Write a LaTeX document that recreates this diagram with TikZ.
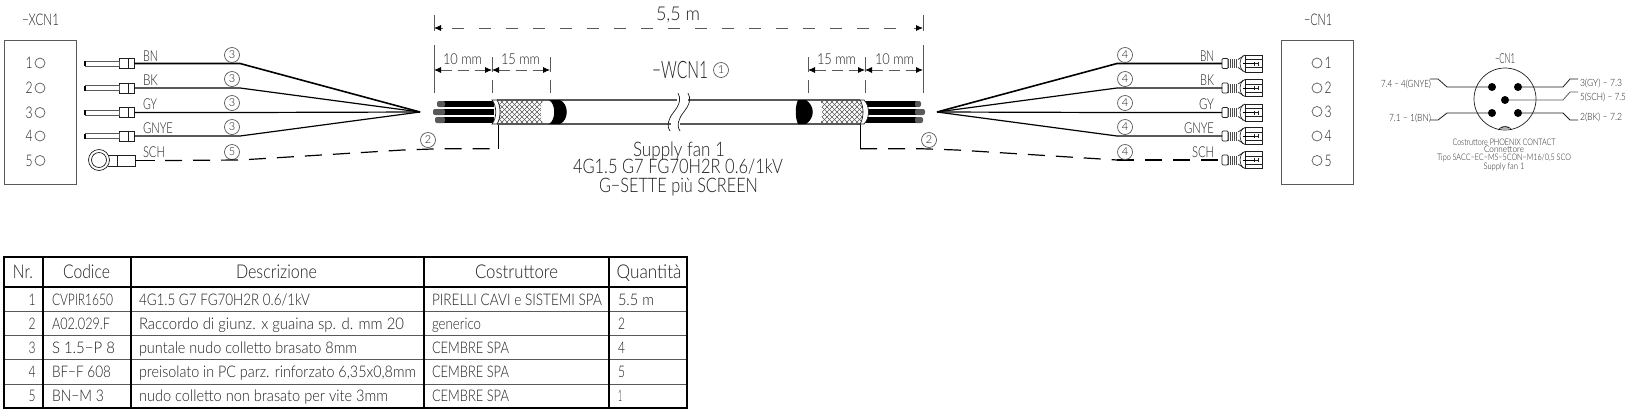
\documentclass[tikz,border=0pt]{standalone}
\usepackage{fontspec}
\usepackage{graphicx}
\usetikzlibrary{arrows.meta}
\newfontfamily\cad{Lato Light}
\definecolor{ink}{gray}{0.12}
\definecolor{thinl}{gray}{0.35}
\newcounter{tn}
\newcommand\Tx[6]{\stepcounter{tn}\pgfmathsetmacro\yb{#3+0.36*#5}\node[txtnode,anchor=#1] (t\arabic{tn}) at (#2,\yb) {\resizebox{#4pt}{\height}{\fontsize{#5}{#5}\selectfont\cad #6}};}
\newcommand\Cd[3]{\stepcounter{tn}\node[circd] (t\arabic{tn}) at (#1,#2) {\fontsize{11}{11}\selectfont\cad #3};}
\tikzset{
  txtnode/.style={inner sep=0pt,outer sep=0pt,text=ink},
  circd/.style={circle,draw=thinl,line width=.7pt,minimum size=15pt,inner sep=0pt,text=ink},
  box/.style={draw=thinl,line width=.9pt},
  wire/.style={draw=black,line width=1.2pt},
  dashwire/.style={draw=black,line width=1.2pt,dash pattern=on 17pt off 11pt},
  dimline/.style={draw=thinl,line width=.8pt,dash pattern=on 12pt off 15pt},
  dimshort/.style={draw=thinl,line width=.8pt,dash pattern=on 11pt off 6pt},
  extline/.style={draw=thinl,line width=.8pt},
  tabthick/.style={draw=black,line width=1.5pt},
  tabthin/.style={draw=thinl,line width=.9pt},
  pinhole/.style={circle,draw=thinl,line width=.7pt,minimum size=10pt,inner sep=0pt},
  pindot/.style={circle,fill=black,minimum size=8pt,inner sep=0pt},
  ferr/.style={draw=ink,line width=.8pt,fill=white,minimum width=15pt,minimum height=10pt,inner sep=0pt},
}
\begin{document}
\begin{tikzpicture}[x=1pt,y=-1pt]
\useasboundingbox (0,0) rectangle (1632,416);
\fill[white] (0,0) rectangle (1632,416);
% ---- left connector box
\node[box,anchor=north west,minimum width=72pt,minimum height=144pt,inner sep=0pt] (xbox) at (4,40) {};
\Tx{base}{40.5}{20}{37}{16}{\char"2212 XCN1}
\foreach \i/\y in {1/63,2/88,3/112.5,4/136,5/160.5}{
  \node[pinhole] (xh\i) at (40,\y) {};
  \Tx{base}{29}{\y}{7}{16}{\i}
}
% ---- right connector box
\node[box,anchor=north west,minimum width=72pt,minimum height=144pt,inner sep=0pt] (cbox) at (1281,40) {};
\Tx{base}{1318}{20}{28}{16}{\char"2212 CN1}
\foreach \i/\y in {1/63,2/88,3/111.5,4/136,5/160.5}{
  \node[pinhole] (ch\i) at (1317,\y) {};
  \Tx{base}{1328}{\y}{7}{16}{\i}
}
% ---- convergence points
\coordinate (lc) at (420,112);
\coordinate (rc) at (937,112);
% ---- left wires
\foreach \i/\y/\lw in {1/63.5/1.6,2/88/1.2,3/112.5/1.2,4/136/1.2}{
  \node[ferr] (lf\i) at (126.5,\y) {};
  \draw[ink,line width=.6pt] (128,\y-5) -- (128,\y+5);
  \draw[thinl,line width=.7pt,fill=white] (85,\y-2.5) rectangle (119,\y+2.5);
  \fill[black] (84,\y-2.5) rectangle (86,\y+2.5);
  \coordinate (lk\i) at (240,\y);
  \draw[wire,line width=\lw pt] (lf\i.east) -- (lk\i) -- (lc);
}
\foreach \y/\l/\w in {56/BN/15,80/BK/15,104/GY/14,128/GNYE/30,152/SCH/22}{
  \Tx{base west}{143}{\y}{\w}{15}{\l}
}
\foreach \y/\d in {55/3,79/3,103/3,127/3,152/5}{\Cd{232}{\y}{\d}}
% ---- ring terminal
\node[circle,draw=ink,line width=.7pt,minimum size=21pt,inner sep=0pt] (ringo) at (99,160) {};
\node[circle,draw=ink,line width=.7pt,minimum size=15pt,inner sep=0pt] (ringi) at (99,160) {};
\node[ferr,minimum width=18pt,minimum height=11pt] (lf5) at (126,160.5) {};
\draw[ink,line width=.7pt] (108,155) -- (117,155) (108,166) -- (117,166);
\coordinate (lk5) at (240,160);
\coordinate (lm) at (403,150);
\coordinate (lm2) at (441,148.7);
\coordinate (lbr) at (498,148.7);
\coordinate (lbt) at (498,124);
\draw[wire,line width=.9pt] (lf5.east) -- (155,160.5);
\draw[dashwire] (165,160.5) -- (lk5) -- (lm) -- (lm2) -- (lbr);
\draw[wire,line width=.9pt] (lbr) -- (lbt);
\Cd{428}{140}{2}
% ---- right wires
\foreach \i/\y/\lw in {1/63.5/1.6,2/88/1.2,3/112.5/1.2,4/136/1.2,5/160/1.0}{
  \coordinate (rk\i) at (1117,\y);
  \coordinate (re\i) at (1222,\y);
  \ifnum\i<5 \draw[wire,line width=\lw pt] (rc) -- (rk\i) -- (re\i); \else
  \draw[dashwire] (rk\i) -- (re\i); \fi
  \begin{scope}[shift={(0,\y)}]
    \draw[ink,line width=.7pt,rounded corners=1pt] (1222,-5) rectangle (1228,5);
    \fill[black!70] (1228,-4.5) rectangle (1238,4.5);
    \foreach \xx in {1229,1231,1233,1235,1237} \draw[white,line width=.5pt] (\xx,-4.5) -- (\xx,4.5);
    \draw[ink,line width=.7pt] (1238,-4) -- (1245,-8.5) (1238,4) -- (1245,8.5);
    \draw[ink,line width=.6pt] (1243,-8) .. controls (1239,-3) and (1239,3) .. (1243,8);
    \draw[ink,line width=.8pt] (1245,-8.5) rectangle (1262,8.5);
    \draw[ink,line width=.6pt] (1245,-4) -- (1262,-4);
    \draw[ink,line width=.6pt] (1245,4) -- (1262,4);
    \draw[black,line width=1pt] (1243,0) -- (1254,0);
    \draw[ink,line width=.5pt] (1254,-2) -- (1254,2) (1258,-2) -- (1258,2) (1254,0) -- (1258,0);
  \end{scope}
}
\coordinate (rm) at (957,150);
\coordinate (rm2) at (920,148.7);
\coordinate (rbr) at (860,148.7);
\coordinate (rbt) at (860,124);
\draw[dashwire] (rbr) -- (rm2) -- (rm) -- (rk5);
\draw[wire,line width=.9pt] (rbr) -- (rbt);
\Cd{929}{140}{2}
\foreach \y in {55,79,103,127,152}{\Cd{1125}{\y}{4}}
\foreach \y/\l/\w in {56/BN/14,80/BK/14,104/GY/15,128/GNYE/30,152/SCH/22}{
  \Tx{base east}{1214}{\y}{\w}{15}{\l}
}
% ---- dimension lines
\coordinate (dA) at (434,28); \coordinate (dB) at (923,28);
\coordinate (sA) at (434,70); \coordinate (sB) at (492,70); \coordinate (sC) at (550,70);
\coordinate (sD) at (808,70); \coordinate (sE) at (865,70); \coordinate (sF) at (923,70);
\draw[dimline] (452,28) -- (910,28);
\draw[{Latex[length=7pt,width=6pt,black]}-,extline] (dA) -- (443,28);
\draw[-{Latex[length=7pt,width=6pt,black]},extline] (914,28) -- (dB);
\foreach \a/\b in {sA/sB,sB/sC,sD/sE,sE/sF}{
  \draw[dimshort,{Latex[length=7pt,width=6pt,black]}-{Latex[length=7pt,width=6pt,black]},dash pattern=on 11pt off 6pt] (\a) -- (\b);
}
\draw[extline] (434,15) -- (434,31) (434,45) -- (434,93);
\draw[extline] (492,57) -- (492,72) (492,80) -- (492,93);
\draw[extline] (550,57) -- (550,72) (550,80) -- (550,93);
\draw[extline] (923,15) -- (923,31) (923,45) -- (923,93);
\draw[extline] (865,57) -- (865,72) (865,80) -- (865,93);
\draw[extline] (808,57) -- (808,72) (808,80) -- (808,93);
\Tx{base}{678}{14}{44}{19}{5,5 m}
\Tx{base}{462.5}{59}{39}{15}{10 mm}
\Tx{base}{520.5}{59}{39}{15}{15 mm}
\Tx{base}{836.5}{59}{39}{15}{15 mm}
\Tx{base}{894.5}{59}{39}{15}{10 mm}
\Tx{base west}{652}{70}{56}{24}{\char"2212 WCN1}
\Cd{721}{70}{1}
\Tx{base}{679}{149}{92}{20}{Supply fan 1}
\Tx{base}{678}{166.5}{210}{20}{4G1.5 G7 FG70H2R 0.6/1kV}
\Tx{base}{678.5}{185}{159}{20}{G\char"2212 SETTE più SCREEN}
% ---- cable jacket
\draw[thinl,line width=1.1pt] (567,100) -- (677,100) (567,124) -- (671,124);
\draw[thinl,line width=1.1pt] (688,100) -- (797,100) (680,124) -- (797,124);
\draw[ink,line width=.7pt] (678,93) .. controls (684,104) and (672,112) .. (670,118) .. controls (667,124) and (668,128) .. (670,131);
\draw[ink,line width=.7pt] (688,93) .. controls (694,104) and (682,112) .. (680,118) .. controls (677,124) and (678,128) .. (680,131);
% ---- left conductors
\foreach \y/\a in {104/437,112/433,120/435}{
  \fill[black] (443,\y-3.2) rectangle (494,\y+3.2);
  \fill[thinl,rounded corners=2pt] (\a,\y-3) rectangle (445,\y+3);
}
\draw[white,line width=.8pt] (443,108) -- (490,108) (443,116) -- (490,116);
% ---- right conductors
\foreach \y/\a in {104/921,112/925,120/923}{
  \fill[black] (865,\y-3.2) rectangle (917,\y+3.2);
  \fill[thinl,rounded corners=2pt] (915,\y-3) rectangle (\a,\y+3);
}
\draw[white,line width=.8pt] (868,108) -- (917,108) (868,116) -- (917,116);
% ---- braids
\begin{scope}
  \clip (497,100) .. controls (501,106) and (501,118) .. (497,124) -- (543,124) .. controls (540,118) and (540,106) .. (543,100) -- cycle;
  \fill[white] (490,95) rectangle (550,130);
  \foreach \k in {0,5,...,100}{
    \draw[thinl,line width=.45pt] (470+\k,100) -- (494+\k,124);
    \draw[thinl,line width=.45pt] (494+\k,100) -- (470+\k,124);
  }
\end{scope}
\begin{scope}
  \clip (820,100) .. controls (823,106) and (823,118) .. (820,124) -- (860,124) .. controls (864,118) and (864,106) .. (860,100) -- cycle;
  \fill[white] (815,95) rectangle (870,130);
  \foreach \k in {0,5,...,100}{
    \draw[thinl,line width=.45pt] (790+\k,100) -- (814+\k,124);
    \draw[thinl,line width=.45pt] (814+\k,100) -- (790+\k,124);
  }
\end{scope}
\draw[thinl,line width=1.1pt] (497,100) -- (567,100) (497,124) -- (567,124);
\draw[thinl,line width=1.1pt] (797,100) -- (860,100) (797,124) -- (860,124);
\draw[ink,line width=.7pt,fill=white] (497,100) .. controls (501,106) and (501,118) .. (497,124) -- (492,124) .. controls (497,118) and (497,106) .. (492,100) -- cycle;
\draw[ink,line width=.7pt,fill=white] (860,100) .. controls (864,106) and (864,118) .. (860,124) -- (864,124) .. controls (870,118) and (870,106) .. (864,100) -- cycle;
% ---- black bands
\fill[black] (549,100) .. controls (556,104) and (556,120) .. (549,124) -- (560,124) .. controls (569,120) and (569,104) .. (560,100) -- cycle;
\fill[black] (798,100) .. controls (795,106) and (795,118) .. (798,124) -- (806,124) .. controls (815,118) and (815,106) .. (806,100) -- cycle;
% ---- round connector
\node[circle,draw=ink,line width=.7pt,minimum size=62pt,inner sep=0pt] (conn) at (1505,99) {};
\draw[ink,line width=.6pt] (1498,130) .. controls (1502,125) and (1508,125) .. (1512,130) (1500,128) -- (1510,128);
\node[pindot] (p1) at (1492,113) {};
\node[pindot] (p2) at (1518,113) {};
\node[pindot] (p3) at (1518,87) {};
\node[pindot] (p4) at (1492,87) {};
\node[pindot] (p5) at (1505,100) {};
\coordinate (q4) at (1430,79); \coordinate (q1) at (1430,120);
\coordinate (q3) at (1578,79); \coordinate (q5) at (1578,92); \coordinate (q2) at (1578,120);
\draw[ink,line width=.8pt] (p4) -- (1447,87) -- (1438,79) -- (q4);
\draw[ink,line width=.8pt] (p1) -- (1447,113) -- (1438,120) -- (q1);
\draw[ink,line width=.8pt] (p3) -- (1563,87) -- (1570,79) -- (q3);
\draw[thinl,line width=.8pt] (p5) -- (1563,100) -- (1570,92) -- (q5);
\draw[ink,line width=.8pt] (p2) -- (1563,113) -- (1570,120) -- (q2);
\Tx{base}{1505}{58}{20}{14}{\char"2212 CN1}
\Tx{base east}{1431}{84}{50}{10}{7.4 \char"2212\ 4(GNYE)}
\Tx{base east}{1431}{118}{42}{10}{7.1 \char"2212\ 1(BN)}
\Tx{base west}{1580}{83}{42}{10}{3(GY) \char"2212\ 7.3}
\Tx{base west}{1580}{97}{46}{10}{5(SCH) \char"2212\ 7.5}
\Tx{base west}{1580}{117}{42}{10}{2(BK) \char"2212\ 7.2}
\Tx{base}{1504}{142}{103}{9}{Costruttore PHOENIX CONTACT}
\Tx{base}{1504}{149.5}{40}{9}{Connettore}
\Tx{base}{1504}{157.5}{134}{9}{Tipo SACC\char"2212 EC\char"2212 MS\char"2212 5CON\char"2212 M16/0,5 SCO}
\Tx{base}{1504}{166}{41}{9}{Supply fan 1}
% ---- table
\foreach \y in {311,335,359,384}{\draw[tabthin] (4,\y) -- (687,\y);}
\draw[tabthick] (4,287) -- (687,287);
\foreach \x in {43,131,424,609}{\draw[tabthick] (\x,257) -- (\x,408);}
\draw[tabthick] (4,257) rectangle (687,408);
\Tx{base}{23}{272}{20}{19}{Nr.}
\Tx{base}{86.5}{272}{47}{19}{Codice}
\Tx{base}{276.5}{272}{81}{19}{Descrizione}
\Tx{base}{516.5}{272}{83}{19}{Costruttore}
\Tx{base}{649}{272}{65}{19}{Quantità}
\foreach \y/\n/\c/\cw/\d/\dw/\m/\mw/\q/\qw in {
  300/1/CVPIR1650/61/{4G1.5 G7 FG70H2R 0.6/1kV}/171/{PIRELLI CAVI e SISTEMI SPA}/170/{5.5 m}/36,
  324/2/A02.029.F/58/{Raccordo di giunz. x guaina sp. d. mm 20}/265/generico/49/2/7,
  348/3/{S 1.5\char"2212 P 8}/63/{puntale nudo colletto brasato 8mm}/218/{CEMBRE SPA}/77/4/7,
  372/4/{BF\char"2212 F 608}/59/{preisolato in PC parz. rinforzato 6,35x0,8mm}/277/{CEMBRE SPA}/77/5/7,
  396/5/{BN\char"2212 M 3}/52/{nudo colletto non brasato per vite 3mm}/249/{CEMBRE SPA}/77/1/4}{
  \Tx{base}{32}{\y}{7}{16}{\n}
  \Tx{base west}{52}{\y}{\cw}{16}{\c}
  \Tx{base west}{139}{\y}{\dw}{16}{\d}
  \Tx{base west}{432}{\y}{\mw}{16}{\m}
  \Tx{base west}{618}{\y}{\qw}{16}{\q}
}
\end{tikzpicture}
\end{document}
